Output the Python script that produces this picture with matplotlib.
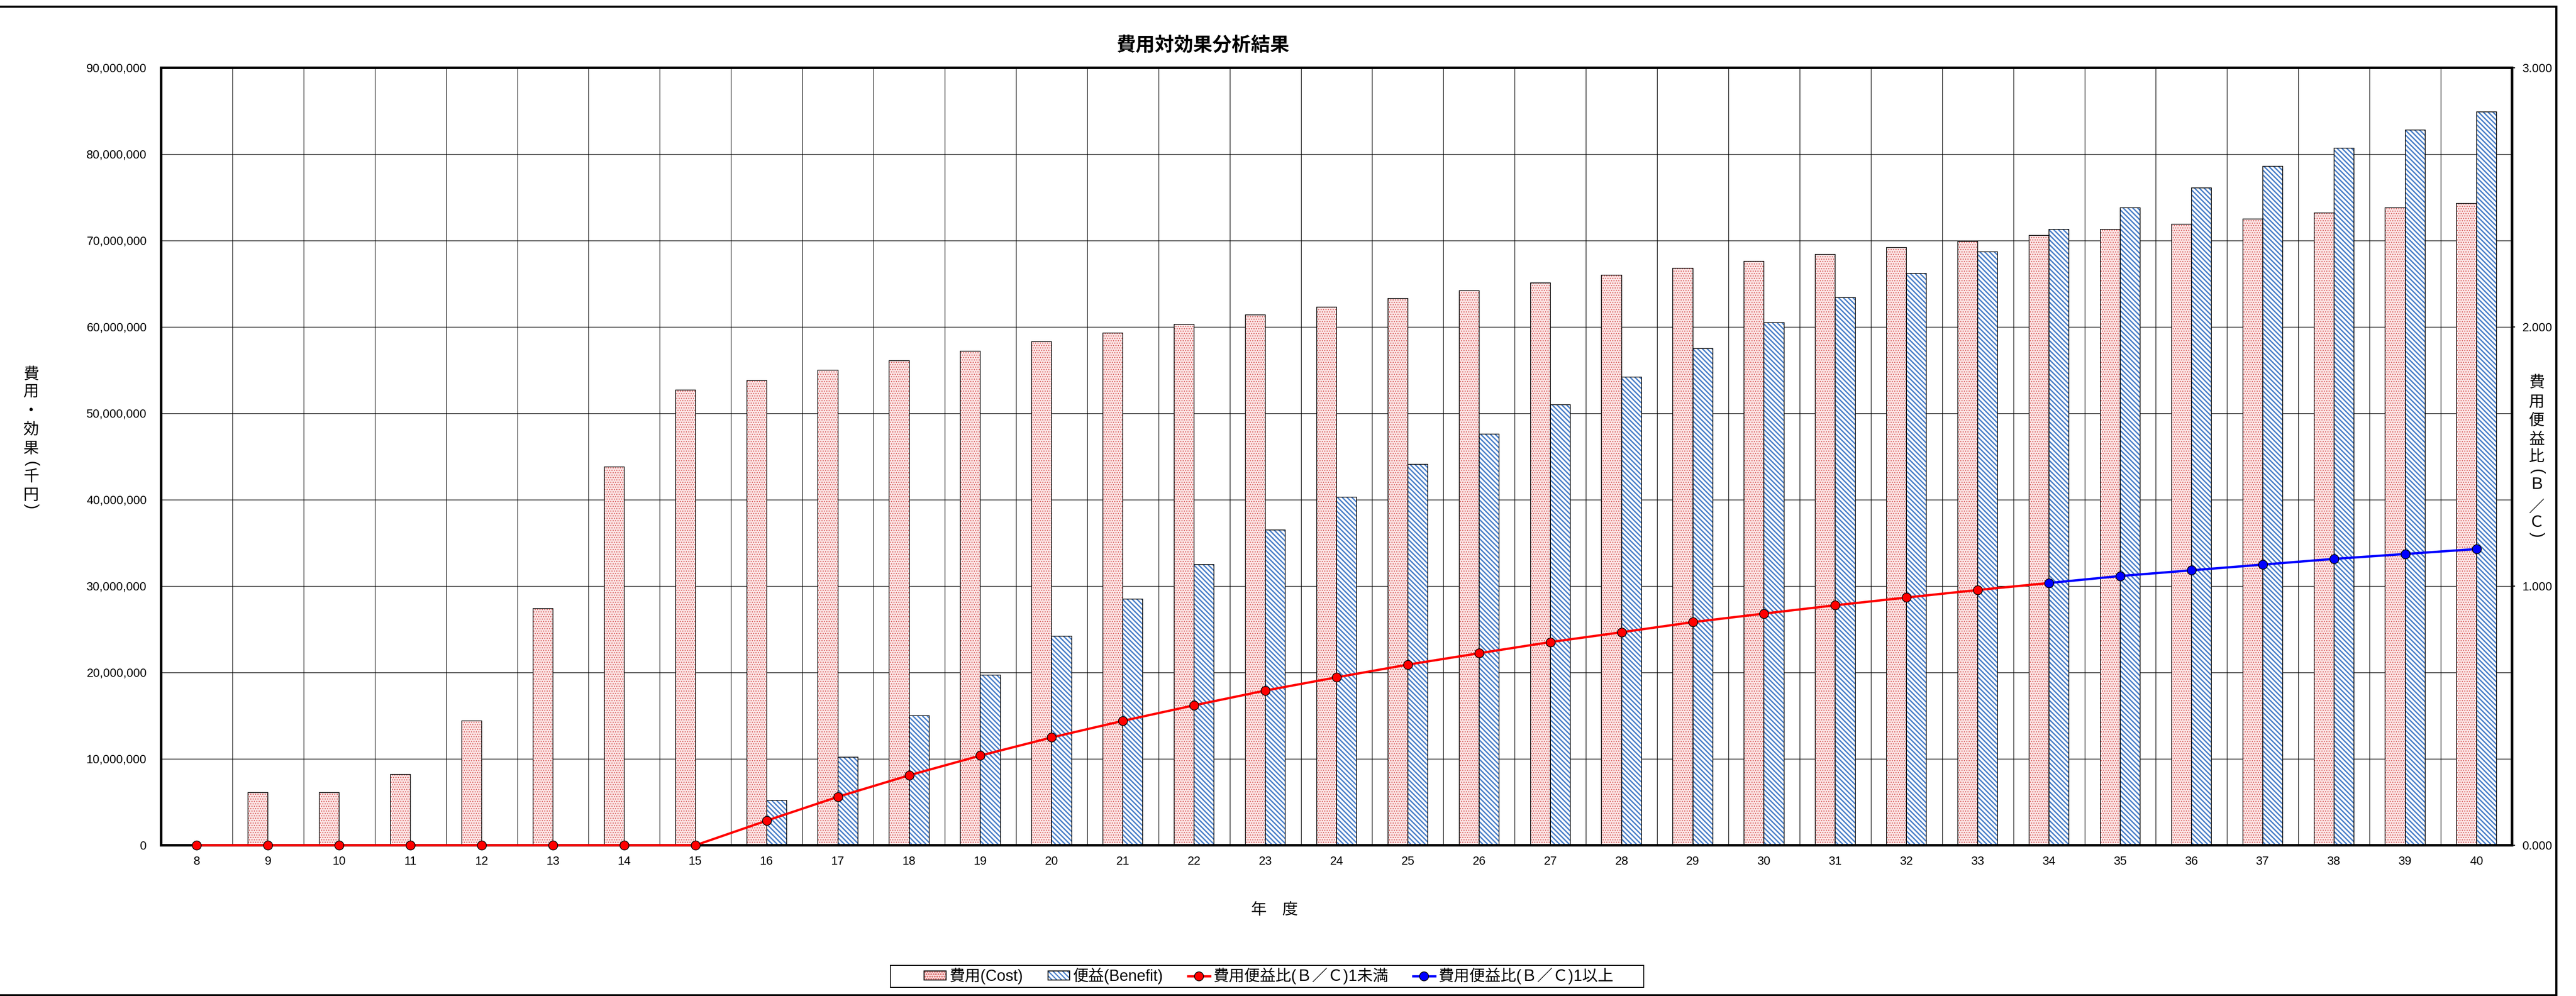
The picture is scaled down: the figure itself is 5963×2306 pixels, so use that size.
import matplotlib
matplotlib.use("Agg")
import matplotlib.pyplot as plt
import numpy as np
from matplotlib.patches import Patch, Rectangle
from matplotlib.lines import Line2D
from matplotlib.legend_handler import HandlerTuple
from matplotlib.ticker import FuncFormatter, FixedLocator

# ---------------- data ----------------
years = [str(y) for y in range(8, 41)]
cost = [0, 6100000, 6100000, 8200000, 14400000, 27400000, 43800000, 52700000,
        53800000, 55000000, 56100000, 57200000, 58300000, 59300000, 60300000,
        61400000, 62300000, 63300000, 64200000, 65100000, 66000000, 66800000,
        67600000, 68400000, 69200000, 69900000, 70600000, 71300000, 71900000,
        72500000, 73200000, 73800000, 74300000]
benefit = [0, 0, 0, 0, 0, 0, 0, 0,
           5200000, 10200000, 15000000, 19700000, 24200000, 28500000, 32500000,
           36500000, 40300000, 44100000, 47600000, 51000000, 54200000, 57500000,
           60500000, 63400000, 66200000, 68700000, 71300000, 73800000, 76100000,
           78600000, 80700000, 82800000, 84900000]
bc_ratio = [0, 0, 0, 0, 0, 0, 0, 0,
            0.095, 0.187, 0.270, 0.346, 0.416, 0.480, 0.540, 0.597, 0.648,
            0.697, 0.741, 0.784, 0.822, 0.861, 0.894, 0.926, 0.956, 0.985,
            1.012, 1.039, 1.061, 1.083, 1.105, 1.124, 1.143]

left_ticks = [0, 10000000, 20000000, 30000000, 40000000, 50000000,
              60000000, 70000000, 80000000, 90000000]
right_ticks = [0.0, 1.0, 2.0, 3.0]

title = "費用対効果分析結果"
xlabel = "年　度"
left_label = ["費", "用", "・", "効", "果", "(", "千", "円", ")"]
right_label = ["費", "用", "便", "益", "比", "(", "Ｂ", "／", "Ｃ", ")"]
legend_labels = ["費用(Cost)", "便益(Benefit)", "費用便益比(Ｂ／Ｃ)1未満", "費用便益比(Ｂ／Ｃ)1以上"]

# ---------------- style ----------------
W, H, DPI = 5963, 2306, 200
plt.rcParams["font.family"] = ["Liberation Sans", "Noto Sans CJK JP", "DejaVu Sans"]

fig = plt.figure(figsize=(W / DPI, H / DPI), dpi=DPI, facecolor="white")


def fx(px):
    return px / W


def fy(py):
    return 1 - py / H


ax_l, ax_r, ax_t, ax_b = 373, 5815, 157, 1957
ax = fig.add_axes([fx(ax_l), fy(ax_b), fx(ax_r - ax_l), (ax_b - ax_t) / H])
ax2 = ax.twinx()

x = np.arange(len(years))
bw = 0.28
cost_face, cost_hatch = "#FBE4E4", "#D85A5A"
cost_pat = "......"
cost_hlw = 0.55
ben_face, ben_hatch = "white", "#4A7FC8"
ben_pat = "\\\\\\\\\\\\"
ben_hlw = 1.15

# cost bars (fill + hatch) then outline
with plt.rc_context({"hatch.linewidth": cost_hlw}):
    ax.bar(x - bw / 2, cost, width=bw, facecolor=cost_face, edgecolor=cost_hatch,
           hatch=cost_pat, linewidth=0, zorder=2)
    h_cost_fill = Patch(facecolor=cost_face, edgecolor=cost_hatch, hatch=cost_pat, linewidth=0)
ax.bar(x - bw / 2, cost, width=bw, fill=False, edgecolor="black", linewidth=0.6, zorder=3)
# benefit bars
with plt.rc_context({"hatch.linewidth": ben_hlw}):
    ax.bar(x + bw / 2, benefit, width=bw, facecolor=ben_face, edgecolor=ben_hatch,
           hatch=ben_pat, linewidth=0, zorder=2)
    h_ben_fill = Patch(facecolor=ben_face, edgecolor=ben_hatch, hatch=ben_pat, linewidth=0)
ax.bar(x + bw / 2, benefit, width=bw, fill=False, edgecolor="black", linewidth=0.6, zorder=3)

ax.set_xlim(-0.5, len(years) - 0.5)
ax.set_ylim(left_ticks[0], left_ticks[-1])
ax.set_yticks(left_ticks)
ax.yaxis.set_major_formatter(FuncFormatter(lambda v, p: f"{v:,.0f}"))
ax.set_xticks(x)
ax.set_xticklabels(years)
ax.xaxis.set_minor_locator(FixedLocator(x[:-1] + 0.5))
ax.grid(True, which="major", axis="y", color="black", linewidth=0.5)
ax.grid(True, which="minor", axis="x", color="black", linewidth=0.5)
ax.set_axisbelow(True)
ax.tick_params(axis="x", which="both", length=0, pad=9, labelsize=10)
ax.tick_params(axis="y", which="both", length=0, pad=12, labelsize=10)
for s in ax.spines.values():
    s.set_linewidth(2.0)
    s.set_color("black")

# ratio lines
ratio = np.array(bc_ratio)
first_ge = int(np.argmax(ratio >= 1.0))
ax2.plot(x[:first_ge + 1], ratio[:first_ge + 1], color="red", linewidth=1.9,
         marker="o", markersize=7.5, markerfacecolor="red", markeredgecolor="black",
         markeredgewidth=0.6, markevery=list(range(first_ge)), zorder=5, clip_on=False)
ax2.plot(x[first_ge:], ratio[first_ge:], color="blue", linewidth=1.9,
         marker="o", markersize=7.5, markerfacecolor="blue", markeredgecolor="black",
         markeredgewidth=0.6, zorder=6, clip_on=False)
ax2.set_ylim(right_ticks[0], right_ticks[-1])
ax2.set_yticks(right_ticks)
ax2.yaxis.set_major_formatter(FuncFormatter(lambda v, p: f"{v:.3f}"))
ax2.tick_params(axis="y", length=2.5, width=0.8, direction="out", pad=6, labelsize=10)
for s in ax2.spines.values():
    s.set_linewidth(2.0)
    s.set_color("black")

# ---------------- texts ----------------
fig.text(fx(2784), fy(105), title, ha="center", va="center", fontsize=16,
         fontweight="bold")
fig.text(fx(2950), fy(2107), xlabel, ha="center", va="center", fontsize=13)


def vertical_label(chars, ys, xc):
    for ch, yy in zip(chars, ys):
        rot = -90 if ch in ("(", ")") else 0
        fig.text(fx(xc), fy(yy), ch, ha="center", va="center", fontsize=13,
                 rotation=rot, rotation_mode="anchor")


vertical_label(left_label, [867, 908, 953, 995, 1040, 1074, 1104, 1147, 1172], 72)
vertical_label(right_label, [886, 932, 974, 1018, 1058, 1092, 1123, 1175, 1211, 1238], 5872)

# ---------------- legend ----------------
h_cost = (h_cost_fill, Patch(fill=False, edgecolor="black", linewidth=0.8))
h_ben = (h_ben_fill, Patch(fill=False, edgecolor="black", linewidth=0.8))
h_red = Line2D([], [], color="red", linewidth=1.9, marker="o", markersize=7.5,
               markerfacecolor="red", markeredgecolor="black", markeredgewidth=0.6)
h_blue = Line2D([], [], color="blue", linewidth=1.9, marker="o", markersize=7.5,
                markerfacecolor="blue", markeredgecolor="black", markeredgewidth=0.6)
leg = fig.legend([h_cost, h_ben, h_red, h_blue], legend_labels, ncol=4,
                 loc="center", bbox_to_anchor=(fx(2937), fy(2260)),
                 frameon=False, fontsize=13, handlelength=1.4, handleheight=0.5,
                 handletextpad=0.2, columnspacing=1.6, borderpad=0.1,
                 handler_map={tuple: HandlerTuple(ndivide=1)})

fig.add_artist(Rectangle((fx(2061), fy(2286)), fx(3805 - 2061), (2286 - 2235) / H,
                         transform=fig.transFigure, fill=False, edgecolor="black",
                         linewidth=0.7))
# outer border
fig.add_artist(Rectangle((-0.01, fy(2304)), fx(5917) + 0.01, (2304 - 15) / H,
                         transform=fig.transFigure, fill=False, edgecolor="black",
                         linewidth=1.8))

fig.savefig("out.png", dpi=DPI, facecolor="white")
